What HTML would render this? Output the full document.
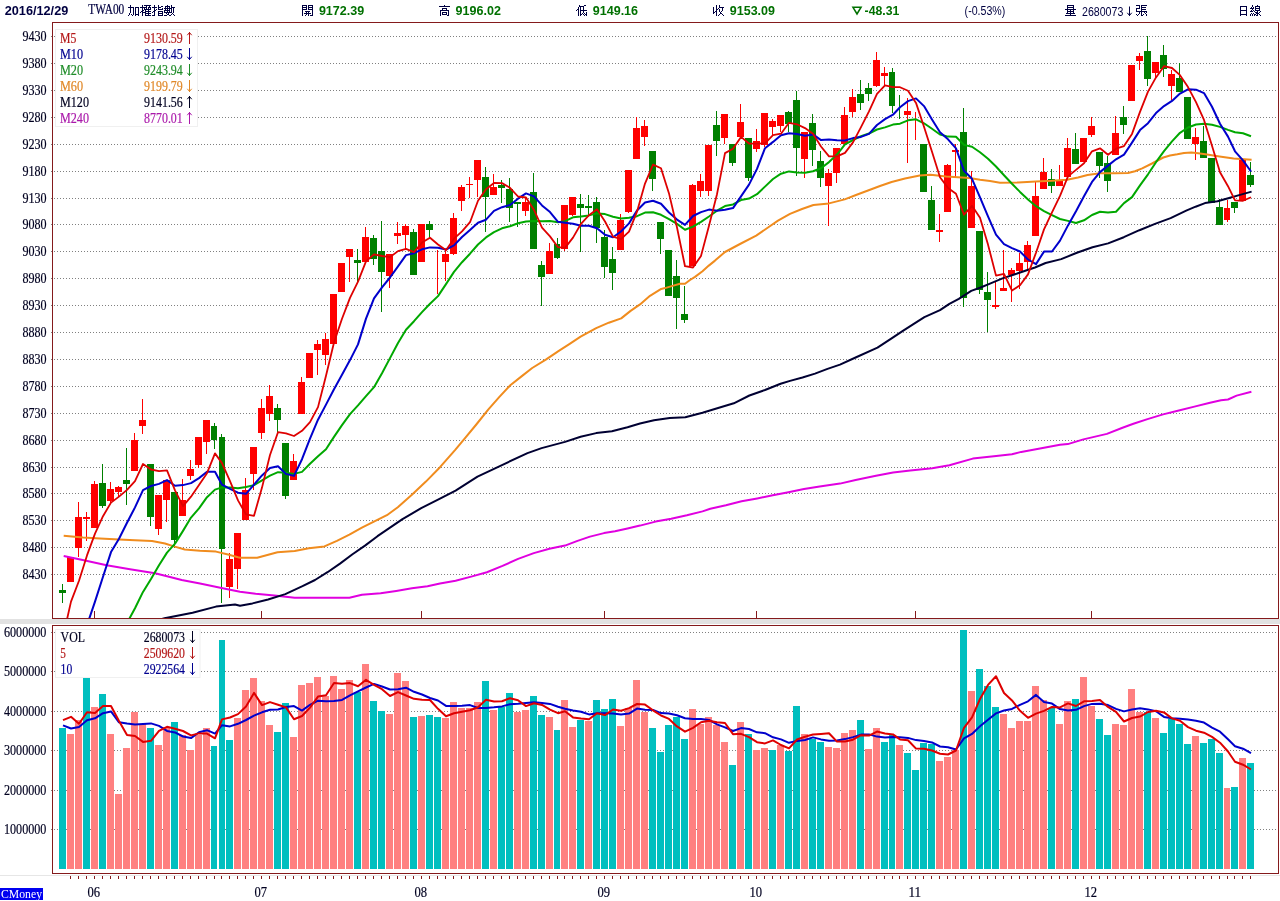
<!DOCTYPE html>
<html><head><meta charset="utf-8"><title>TWA00</title>
<style>html,body{margin:0;padding:0;background:#fff;overflow:hidden}svg{display:block;will-change:transform;transform:translateZ(0)}text{white-space:pre}</style>
</head><body>
<svg width="1280" height="901" viewBox="0 0 1280 901">
<defs><clipPath id="cm"><rect x="53" y="23" width="1225" height="595"/></clipPath><clipPath id="cv"><rect x="53" y="626" width="1225" height="247"/></clipPath></defs>
<rect x="0" y="0" width="1280" height="901" fill="#fff"/>
<rect x="0" y="619" width="1280" height="5" fill="#e2e2e2"/>
<rect x="0" y="875" width="1280" height="1" fill="#e6e6e6"/>
<path d="M51 36.5H1277M51 63.5H1277M51 90.5H1277M51 117.5H1277M51 144.5H1277M51 171.5H1277M51 198.5H1277M51 224.5H1277M51 251.5H1277M51 278.5H1277M51 305.5H1277M51 332.5H1277M51 359.5H1277M51 386.5H1277M51 413.5H1277M51 440.5H1277M51 467.5H1277M51 493.5H1277M51 520.5H1277M51 547.5H1277M51 574.5H1277" stroke="#808080" stroke-width="1" stroke-dasharray="1 2" fill="none" shape-rendering="crispEdges"/>
<path d="M51 829.5H1277M51 790.5H1277M51 750.5H1277M51 711.5H1277M51 671.5H1277M51 632.5H1277" stroke="#808080" stroke-width="1" stroke-dasharray="1 2" fill="none" shape-rendering="crispEdges"/>
<path d="M94.5 611V618M261.5 611V618M421.5 611V618M604.5 611V618M756.5 611V618M915.5 611V618M1091.5 611V618" stroke="#841a1c" stroke-width="1" fill="none" shape-rendering="crispEdges"/>
<path d="M67 557h7v25h-7zM70 557h1v25h-1zM75 517h7v31h-7zM78 502h1v55h-1zM83 517h7v2h-7zM86 512h1v29h-1zM91 484h7v44h-7zM94 481h1v47h-1zM107 489h7v12h-7zM110 482h1v22h-1zM115 487h7v5h-7zM118 486h1v11h-1zM131 440h7v31h-7zM134 433h1v38h-1zM139 420h7v6h-7zM142 399h1v35h-1zM155 495h7v34h-7zM158 495h1v40h-1zM163 480h7v20h-7zM166 480h1v42h-1zM179 500h7v16h-7zM182 479h1v37h-1zM187 469h7v7h-7zM190 460h1v20h-1zM195 437h7v28h-7zM198 437h1v31h-1zM203 420h7v22h-7zM206 420h1v34h-1zM226 559h7v28h-7zM229 553h1v45h-1zM234 533h7v36h-7zM237 533h1v56h-1zM242 490h7v30h-7zM245 478h1v42h-1zM250 447h7v27h-7zM253 447h1v43h-1zM258 408h7v25h-7zM261 399h1v40h-1zM266 396h7v18h-7zM269 385h1v36h-1zM290 461h7v19h-7zM293 454h1v26h-1zM298 382h7v32h-7zM301 377h1v37h-1zM306 353h7v25h-7zM309 353h1v25h-1zM314 344h7v6h-7zM317 340h1v35h-1zM322 339h7v16h-7zM325 333h1v32h-1zM330 294h7v50h-7zM333 294h1v50h-1zM338 263h7v29h-7zM341 263h1v29h-1zM346 249h7v8h-7zM349 249h1v33h-1zM362 237h7v25h-7zM365 227h1v35h-1zM386 254h7v22h-7zM389 254h1v34h-1zM394 233h7v3h-7zM397 222h1v22h-1zM402 226h7v9h-7zM405 224h1v26h-1zM418 224h7v38h-7zM421 224h1v38h-1zM437 250h1v44h-1zM442 254h7v8h-7zM445 250h1v31h-1zM450 218h7v36h-7zM453 213h1v42h-1zM458 187h7v14h-7zM461 185h1v26h-1zM466 184h7v1h-7zM469 177h1v21h-1zM474 160h7v20h-7zM477 160h1v37h-1zM490 187h7v8h-7zM493 174h1v21h-1zM522 202h7v9h-7zM525 198h1v18h-1zM546 251h7v23h-7zM549 243h1v31h-1zM561 205h7v44h-7zM564 205h1v46h-1zM569 197h7v18h-7zM572 197h1v19h-1zM617 220h7v30h-7zM620 214h1v36h-1zM625 170h7v42h-7zM628 170h1v43h-1zM633 128h7v31h-7zM636 117h1v42h-1zM641 126h7v11h-7zM644 120h1v26h-1zM689 185h7v81h-7zM692 184h1v82h-1zM697 181h7v10h-7zM700 174h1v23h-1zM705 145h7v46h-7zM708 145h1v51h-1zM721 114h7v24h-7zM724 114h1v30h-1zM737 122h7v15h-7zM740 104h1v33h-1zM753 141h7v8h-7zM756 129h1v23h-1zM761 113h7v32h-7zM764 113h1v34h-1zM769 121h7v6h-7zM772 119h1v16h-1zM777 115h7v11h-7zM780 115h1v17h-1zM801 132h7v27h-7zM804 132h1v46h-1zM825 173h7v13h-7zM828 169h1v57h-1zM833 148h7v25h-7zM836 148h1v35h-1zM841 115h7v29h-7zM844 107h1v37h-1zM849 97h7v15h-7zM852 89h1v28h-1zM873 60h7v26h-7zM876 52h1v35h-1zM881 73h7v3h-7zM884 67h1v18h-1zM904 111h7v4h-7zM907 98h1v65h-1zM915 112h1v28h-1zM936 230h7v2h-7zM939 214h1v28h-1zM944 165h7v47h-7zM947 164h1v48h-1zM952 150h7v2h-7zM955 144h1v33h-1zM968 186h7v42h-7zM971 171h1v57h-1zM992 305h7v2h-7zM995 282h1v27h-1zM1000 288h7v3h-7zM1003 250h1v41h-1zM1008 270h7v5h-7zM1011 268h1v34h-1zM1016 263h7v8h-7zM1019 253h1v36h-1zM1024 245h7v17h-7zM1027 241h1v30h-1zM1032 196h7v40h-7zM1035 181h1v55h-1zM1040 172h7v17h-7zM1043 158h1v31h-1zM1056 180h7v6h-7zM1059 165h1v21h-1zM1064 148h7v29h-7zM1067 138h1v40h-1zM1080 138h7v24h-7zM1083 138h1v24h-1zM1088 126h7v9h-7zM1091 117h1v20h-1zM1112 133h7v22h-7zM1115 116h1v39h-1zM1128 65h7v36h-7zM1131 65h1v36h-1zM1136 56h7v5h-7zM1139 53h1v17h-1zM1152 62h7v11h-7zM1155 62h1v17h-1zM1168 74h7v12h-7zM1171 70h1v30h-1zM1192 137h7v7h-7zM1195 128h1v32h-1zM1224 208h6v12h-6zM1227 200h1v22h-1zM1239 160h7v41h-7zM1242 160h1v41h-1z" fill="#ff0000" shape-rendering="crispEdges"/>
<path d="M59 590h7v3h-7zM62 584h1v19h-1zM99 483h7v23h-7zM102 464h1v44h-1zM123 480h7v4h-7zM126 448h1v57h-1zM147 464h7v53h-7zM150 464h1v62h-1zM171 492h7v48h-7zM174 492h1v56h-1zM211 426h6v14h-6zM214 423h1v26h-1zM219 437h6v112h-6zM221 434h1v169h-1zM274 408h7v12h-7zM277 404h1v29h-1zM282 443h7v53h-7zM285 443h1v56h-1zM354 260h7v3h-7zM357 249h1v33h-1zM370 238h7v21h-7zM373 235h1v30h-1zM378 251h7v21h-7zM381 221h1v91h-1zM410 232h7v43h-7zM413 229h1v46h-1zM426 224h7v6h-7zM429 221h1v17h-1zM482 177h7v20h-7zM485 167h1v65h-1zM498 185h7v3h-7zM501 180h1v23h-1zM506 189h7v19h-7zM509 178h1v44h-1zM514 202h7v2h-7zM517 202h1v25h-1zM530 192h7v57h-7zM533 173h1v76h-1zM538 265h7v12h-7zM541 261h1v45h-1zM554 244h6v14h-6zM557 238h1v21h-1zM577 204h7v4h-7zM580 194h1v58h-1zM585 206h7v2h-7zM588 195h1v20h-1zM593 202h7v26h-7zM596 197h1v46h-1zM601 237h7v30h-7zM604 230h1v48h-1zM609 259h7v14h-7zM612 247h1v43h-1zM649 151h7v28h-7zM652 151h1v40h-1zM657 222h7v17h-7zM660 222h1v32h-1zM665 250h7v46h-7zM668 250h1v46h-1zM673 276h7v22h-7zM676 260h1v69h-1zM681 314h7v6h-7zM684 286h1v37h-1zM713 125h7v16h-7zM716 111h1v45h-1zM729 144h7v19h-7zM732 144h1v22h-1zM745 138h7v40h-7zM748 138h1v43h-1zM785 112h7v12h-7zM788 111h1v21h-1zM793 100h7v48h-7zM796 91h1v85h-1zM809 123h7v27h-7zM812 114h1v52h-1zM817 161h7v17h-7zM820 151h1v36h-1zM857 94h7v9h-7zM860 80h1v30h-1zM865 88h7v6h-7zM868 83h1v18h-1zM889 72h6v34h-6zM892 68h1v45h-1zM899 95h1v24h-1zM920 144h7v48h-7zM923 144h1v48h-1zM928 200h7v30h-7zM931 186h1v44h-1zM960 132h7v166h-7zM963 108h1v199h-1zM976 231h7v59h-7zM979 231h1v63h-1zM984 292h7v8h-7zM987 272h1v60h-1zM1048 179h7v7h-7zM1051 169h1v24h-1zM1072 149h7v15h-7zM1075 133h1v31h-1zM1096 152h7v14h-7zM1099 152h1v26h-1zM1104 163h7v18h-7zM1107 156h1v36h-1zM1120 117h7v8h-7zM1123 106h1v28h-1zM1144 51h7v28h-7zM1147 36h1v50h-1zM1160 55h7v14h-7zM1163 45h1v32h-1zM1176 78h7v14h-7zM1179 63h1v29h-1zM1184 97h7v42h-7zM1187 97h1v42h-1zM1200 141h7v17h-7zM1203 126h1v32h-1zM1208 158h7v45h-7zM1211 158h1v45h-1zM1216 207h7v18h-7zM1219 199h1v26h-1zM1231 202h7v6h-7zM1234 202h1v11h-1zM1247 175h7v10h-7zM1250 162h1v25h-1z" fill="#008000" shape-rendering="crispEdges"/>
<path d="M63.7 556.1L85.0 560.5L106.7 565.2L130.0 569.3L155.1 573.3L170.0 577.0L181.7 580.0L200.0 583.5L223.9 588.6L240.0 591.7L255.6 593.8L274.4 595.6L294.7 597.7L318.1 597.7L349.4 597.7L361.9 594.8L380.6 593.3L396.2 590.9L411.9 588.3L427.5 586.2L440.0 583.6L455.6 580.8L471.2 576.6L486.9 572.2L502.5 565.9L518.1 558.9L533.8 553.1L549.4 548.8L565.0 545.6L577.5 540.9L590.0 536.6L604.0 533.1L615.0 531.2L627.5 528.4L640.0 525.6L655.6 521.6L671.2 518.8L686.9 515.3L702.5 511.4L710.3 508.8L725.9 505.2L741.6 501.2L757.2 498.4L772.8 495.3L788.4 492.2L804.0 489.1L819.7 486.4L840.0 483.6L855.6 480.0L876.0 475.8L893.1 472.5L910.3 470.6L932.2 468.3L949.4 465.2L972.8 458.6L996.2 456.1L1011.9 454.2L1021.2 451.9L1040.0 448.4L1060.0 444.8L1067.8 444.1L1083.4 439.4L1106.9 433.9L1122.5 427.7L1133.4 423.8L1147.5 419.1L1163.1 414.4L1178.8 410.5L1194.4 406.6L1210.0 402.7L1221.0 400.3L1228.0 399.5L1236.6 395.6L1251.4 391.7" stroke="#e000e0" stroke-width="2.00" fill="none" stroke-linejoin="round" stroke-linecap="butt" clip-path="url(#cm)"/>
<path d="M160.0 619.5L164.5 618.3L192.6 612.8L216.0 606.6L235.0 604.5L240.0 605.8L252.5 603.4L268.1 599.5L285.3 594.1L302.5 586.2L315.0 580.0L327.5 572.2L340.0 563.6L352.5 554.2L365.0 545.6L377.5 536.2L390.0 527.7L402.5 519.1L411.9 513.6L421.2 508.1L430.6 503.4L440.0 498.6L455.6 490.6L477.5 476.6L502.5 464.8L527.5 453.1L541.6 448.1L565.0 441.9L580.6 436.7L596.2 433.1L611.9 431.2L627.5 427.3L640.0 423.5L654.0 420.2L669.7 418.1L685.3 417.3L702.5 412.7L718.1 408.0L733.8 403.3L749.4 395.5L765.0 390.0L780.6 383.8L790.0 380.9L802.5 377.5L815.0 373.6L827.5 368.9L840.0 364.6L855.6 357.5L877.5 347.7L891.6 338.3L902.5 331.2L913.4 324.2L924.4 317.2L940.0 310.2L949.4 303.9L958.8 298.8L971.2 290.9L980.6 287.5L990.0 283.6L1002.5 278.4L1015.0 274.2L1027.5 270.0L1035.0 267.5L1045.6 263.0L1061.2 259.1L1076.9 252.8L1092.5 247.3L1108.1 243.4L1123.8 237.2L1139.4 230.2L1155.0 223.9L1170.6 218.1L1186.2 210.6L1195.6 206.7L1205.0 203.1L1217.5 201.2L1230.0 197.8L1240.0 194.9L1251.6 191.6" stroke="#000032" stroke-width="2.00" fill="none" stroke-linejoin="round" stroke-linecap="butt" clip-path="url(#cm)"/>
<path d="M63.7 535.8L83.0 537.5L100.0 538.5L119.2 539.4L135.0 540.3L152.0 541.0L165.0 543.5L173.9 546.4L184.8 549.5L200.0 550.8L216.0 551.6L228.0 554.5L238.0 557.3L240.0 557.7L257.2 557.7L277.5 552.2L294.7 551.1L308.8 548.3L324.4 546.4L336.9 540.9L349.4 534.7L361.9 527.7L374.4 521.4L386.9 515.2L397.8 507.3L411.9 494.8L425.9 481.6L440.0 467.2L455.0 450.1L464.2 439.1L475.9 425.0L488.4 409.4L499.4 396.9L510.3 385.2L521.2 376.6L532.2 368.0L546.2 359.4L558.8 350.8L569.7 343.8L580.6 336.7L596.2 328.1L608.8 322.7L621.2 318.4L630.6 310.9L640.0 304.4L650.0 295.8L661.2 288.9L665.0 288.1L672.5 285.9L680.0 283.8L685.0 283.7L690.0 280.0L695.0 276.9L702.5 271.2L708.8 265.6L715.0 260.6L720.0 256.2L725.0 252.0L740.0 244.0L756.2 235.6L768.0 227.5L778.0 220.6L790.0 213.9L802.0 209.0L813.4 205.0L829.0 203.4L844.7 199.4L856.0 195.0L868.0 190.5L880.0 186.0L891.6 182.0L905.0 178.5L919.7 175.6L930.6 174.8L946.2 176.4L958.0 177.3L969.7 178.0L980.0 179.8L990.0 181.1L1000.0 182.8L1018.0 182.4L1036.0 181.6L1052.0 180.8L1067.0 179.7L1078.0 177.5L1087.5 175.0L1100.0 173.2L1115.0 173.3L1128.0 173.0L1135.0 171.3L1142.2 168.4L1152.0 163.5L1163.3 157.5L1170.0 155.5L1177.3 154.3L1184.0 153.0L1191.4 152.5L1198.0 153.2L1205.5 154.3L1219.5 156.4L1233.6 158.5L1251.6 159.8" stroke="#f08c1e" stroke-width="2.00" fill="none" stroke-linejoin="round" stroke-linecap="butt" clip-path="url(#cm)"/>
<path d="M63.0 682.0L71.0 683.9L79.0 682.2L87.0 677.9L95.0 669.8L103.0 659.2L111.0 647.3L119.0 634.9L127.0 623.0L135.0 608.3L143.0 591.9L151.0 578.9L159.0 565.2L167.0 552.6L175.0 543.6L183.0 530.9L191.0 517.6L199.0 508.4L207.0 497.2L215.0 489.6L222.0 487.4L230.0 487.5L238.0 488.3L246.0 487.0L254.0 485.1L262.0 480.3L270.0 475.6L278.0 472.2L286.0 472.8L294.0 473.9L302.0 471.9L310.0 463.8L318.0 456.2L326.0 449.2L334.0 436.9L342.0 425.1L350.0 414.1L358.0 405.4L366.0 396.2L374.0 387.2L382.0 373.3L390.0 358.1L398.0 343.0L406.0 329.8L414.0 321.2L422.0 312.1L430.0 303.7L438.0 296.1L446.0 284.1L454.0 271.9L462.0 262.2L470.0 253.7L478.0 244.5L486.0 237.4L494.0 232.1L502.0 228.3L510.0 226.2L518.0 223.2L526.0 221.5L534.0 220.9L542.0 221.2L550.0 221.0L558.0 222.3L565.0 221.2L573.0 217.3L581.0 216.5L589.0 215.4L597.0 213.4L605.0 214.1L613.0 216.8L621.0 218.5L629.0 217.8L637.0 216.2L645.0 212.6L653.0 212.2L661.0 214.8L669.0 219.2L677.0 223.9L685.0 229.8L693.0 226.6L701.0 221.8L709.0 216.5L717.0 210.7L725.0 206.1L733.0 204.4L741.0 200.1L749.0 198.6L757.0 194.2L765.0 186.6L773.0 179.0L781.0 173.7L789.0 171.4L797.0 172.4L805.0 172.7L813.0 171.3L821.0 168.2L829.0 162.1L837.0 154.6L845.0 144.4L853.0 140.0L861.0 136.1L869.0 133.5L877.0 129.5L885.0 127.4L893.0 124.6L900.0 123.7L908.0 120.3L916.0 119.3L924.0 123.3L932.0 128.8L940.0 134.5L948.0 136.6L956.0 136.7L964.0 144.9L972.0 146.8L980.0 152.3L988.0 158.7L996.0 166.5L1004.0 175.2L1012.0 183.8L1020.0 191.9L1028.0 199.4L1036.0 206.2L1044.0 211.2L1052.0 215.2L1060.0 219.0L1068.0 220.9L1076.0 223.0L1084.0 220.3L1092.0 215.0L1100.0 211.8L1108.0 212.6L1116.0 211.7L1124.0 203.1L1132.0 197.1L1140.0 185.4L1148.0 174.3L1156.0 162.2L1164.0 151.2L1172.0 141.4L1180.0 132.8L1188.0 127.5L1196.0 124.5L1204.0 123.8L1212.0 124.7L1220.0 126.9L1228.0 129.9L1235.0 132.2L1243.0 133.3L1251.0 136.2" stroke="#00a800" stroke-width="2.00" fill="none" stroke-linejoin="round" stroke-linecap="butt" clip-path="url(#cm)"/>
<path d="M63.0 693.7L71.0 671.8L79.0 646.5L87.0 625.2L95.0 601.6L103.0 576.7L111.0 552.1L119.0 538.7L127.0 522.7L135.0 507.4L143.0 490.1L151.0 486.0L159.0 483.9L167.0 480.1L175.0 485.7L183.0 485.1L191.0 483.1L199.0 478.1L207.0 471.8L215.0 471.8L222.0 484.7L230.0 488.9L238.0 492.7L246.0 493.8L254.0 484.6L262.0 475.4L270.0 468.1L278.0 466.3L286.0 473.9L294.0 475.9L302.0 459.2L310.0 438.6L318.0 419.7L326.0 404.6L334.0 389.2L342.0 374.8L350.0 360.1L358.0 344.4L366.0 318.6L374.0 298.4L382.0 287.4L390.0 277.5L398.0 266.4L406.0 255.1L414.0 253.2L422.0 249.3L430.0 247.4L438.0 247.8L446.0 249.5L454.0 245.4L462.0 237.0L470.0 229.9L478.0 222.7L486.0 219.7L494.0 210.9L502.0 207.2L510.0 205.0L518.0 198.7L526.0 193.4L534.0 196.4L542.0 205.4L550.0 212.1L558.0 221.8L565.0 222.7L573.0 223.7L581.0 225.8L589.0 225.8L597.0 228.2L605.0 234.7L613.0 237.2L621.0 231.5L629.0 223.4L637.0 210.5L645.0 202.5L653.0 200.7L661.0 203.8L669.0 212.5L677.0 219.6L685.0 224.9L693.0 216.0L701.0 212.1L709.0 209.6L717.0 210.8L725.0 209.7L733.0 208.1L741.0 196.4L749.0 184.6L757.0 168.9L765.0 148.2L773.0 141.9L781.0 135.3L789.0 133.2L797.0 134.0L805.0 135.8L813.0 134.4L821.0 140.1L829.0 139.6L837.0 140.3L845.0 140.5L853.0 138.1L861.0 136.9L869.0 133.9L877.0 125.0L885.0 119.1L893.0 114.7L900.0 107.2L908.0 101.1L916.0 98.4L924.0 106.1L932.0 119.4L940.0 132.2L948.0 139.3L956.0 148.3L964.0 170.8L972.0 178.8L980.0 197.4L988.0 216.3L996.0 234.7L1004.0 244.2L1012.0 248.2L1020.0 251.5L1028.0 259.5L1036.0 264.1L1044.0 251.6L1052.0 251.5L1060.0 240.6L1068.0 225.4L1076.0 211.3L1084.0 196.3L1092.0 181.9L1100.0 172.1L1108.0 165.6L1116.0 159.3L1124.0 154.6L1132.0 142.6L1140.0 130.1L1148.0 123.2L1156.0 113.1L1164.0 106.1L1172.0 100.9L1180.0 93.6L1188.0 89.3L1196.0 89.7L1204.0 93.1L1212.0 106.8L1220.0 123.7L1228.0 136.6L1235.0 151.3L1243.0 160.4L1251.0 171.5" stroke="#0000cc" stroke-width="2.00" fill="none" stroke-linejoin="round" stroke-linecap="butt" clip-path="url(#cm)"/>
<path d="M63.0 637.2L71.0 601.6L79.0 580.8L87.0 555.4L95.0 533.6L103.0 516.2L111.0 502.6L119.0 496.6L127.0 489.9L135.0 481.1L143.0 464.0L151.0 469.5L159.0 471.1L167.0 470.3L175.0 490.3L183.0 506.2L191.0 496.7L199.0 485.1L207.0 473.2L215.0 453.4L222.0 463.1L230.0 481.1L238.0 500.4L246.0 514.4L254.0 515.8L262.0 487.6L270.0 455.0L278.0 432.2L286.0 433.3L294.0 436.0L302.0 430.8L310.0 422.2L318.0 407.1L326.0 375.8L334.0 342.5L342.0 318.7L350.0 297.9L358.0 281.7L366.0 261.3L374.0 254.4L382.0 256.0L390.0 257.1L398.0 251.1L406.0 248.9L414.0 252.1L422.0 242.6L430.0 237.7L438.0 244.5L446.0 250.2L454.0 238.7L462.0 231.3L470.0 222.2L478.0 200.8L486.0 189.3L494.0 183.0L502.0 183.1L510.0 187.8L518.0 196.5L526.0 197.5L534.0 209.9L542.0 227.7L550.0 236.4L558.0 247.2L565.0 247.9L573.0 237.6L581.0 223.8L589.0 215.2L597.0 209.2L605.0 221.5L613.0 236.7L621.0 239.2L629.0 231.7L637.0 211.7L645.0 183.6L653.0 164.6L661.0 168.3L669.0 193.4L677.0 227.5L685.0 266.2L693.0 267.5L701.0 255.9L709.0 225.7L717.0 194.2L725.0 153.1L733.0 148.7L741.0 136.9L749.0 143.5L757.0 143.6L765.0 143.4L773.0 135.1L781.0 133.7L789.0 122.8L797.0 124.3L805.0 128.1L813.0 133.8L821.0 146.5L829.0 156.4L837.0 156.3L845.0 152.9L853.0 142.4L861.0 127.2L869.0 111.4L877.0 93.8L885.0 85.4L893.0 87.1L900.0 87.2L908.0 90.7L916.0 102.9L924.0 126.8L932.0 151.8L940.0 177.2L948.0 187.9L956.0 193.7L964.0 214.7L972.0 205.8L980.0 217.7L988.0 244.6L996.0 275.6L1004.0 273.8L1012.0 290.6L1020.0 285.3L1028.0 274.4L1036.0 252.7L1044.0 229.4L1052.0 212.4L1060.0 195.9L1068.0 176.4L1076.0 169.9L1084.0 163.2L1092.0 151.3L1100.0 148.3L1108.0 154.8L1116.0 148.7L1124.0 146.1L1132.0 133.9L1140.0 111.9L1148.0 91.6L1156.0 77.4L1164.0 66.2L1172.0 68.0L1180.0 75.2L1188.0 87.1L1196.0 102.1L1204.0 119.9L1212.0 145.7L1220.0 172.2L1228.0 186.2L1235.0 200.4L1243.0 200.8L1251.0 197.2" stroke="#de0000" stroke-width="1.80" fill="none" stroke-linejoin="round" stroke-linecap="butt" clip-path="url(#cm)"/>
<path d="M67 734h7V869h-7zM75 720h7V869h-7zM91 707h7V869h-7zM107 734h7V869h-7zM115 794h7V869h-7zM123 748h7V869h-7zM131 712h7V869h-7zM139 724h7V869h-7zM155 745h7V869h-7zM163 727h7V869h-7zM179 735h7V869h-7zM187 750h7V869h-7zM195 735h7V869h-7zM203 728h7V869h-7zM234 718h7V869h-7zM242 690h7V869h-7zM250 678h7V869h-7zM258 701h7V869h-7zM266 725h7V869h-7zM290 737h7V869h-7zM298 685h7V869h-7zM306 683h7V869h-7zM314 677h7V869h-7zM322 696h7V869h-7zM330 676h7V869h-7zM338 689h7V869h-7zM346 680h7V869h-7zM362 664h7V869h-7zM386 714h7V869h-7zM394 673h7V869h-7zM402 681h7V869h-7zM418 716h7V869h-7zM442 718h7V869h-7zM450 702h7V869h-7zM458 708h7V869h-7zM466 708h7V869h-7zM474 702h7V869h-7zM490 710h7V869h-7zM514 712h7V869h-7zM522 710h7V869h-7zM546 717h7V869h-7zM561 700h7V869h-7zM569 727h7V869h-7zM585 721h7V869h-7zM617 726h7V869h-7zM625 708h7V869h-7zM633 680h7V869h-7zM641 712h7V869h-7zM689 709h7V869h-7zM697 724h7V869h-7zM705 717h7V869h-7zM713 725h7V869h-7zM721 742h7V869h-7zM737 722h7V869h-7zM753 750h7V869h-7zM761 748h7V869h-7zM777 745h7V869h-7zM801 734h7V869h-7zM825 747h7V869h-7zM833 748h7V869h-7zM841 733h7V869h-7zM849 730h7V869h-7zM865 749h7V869h-7zM873 728h7V869h-7zM896 745h7V869h-7zM936 761h7V869h-7zM944 757h7V869h-7zM952 750h7V869h-7zM968 691h7V869h-7zM1000 714h7V869h-7zM1008 728h7V869h-7zM1016 721h7V869h-7zM1024 721h7V869h-7zM1032 686h7V869h-7zM1040 700h7V869h-7zM1056 724h7V869h-7zM1064 701h7V869h-7zM1080 677h7V869h-7zM1088 706h7V869h-7zM1112 724h7V869h-7zM1120 725h7V869h-7zM1128 689h7V869h-7zM1136 712h7V869h-7zM1152 718h7V869h-7zM1192 736h7V869h-7zM1224 788h6V869h-6zM1239 758h7V869h-7z" fill="#ff8080" shape-rendering="crispEdges"/>
<path d="M59 728h7V869h-7zM83 678h7V869h-7zM99 694h7V869h-7zM147 728h7V869h-7zM171 722h7V869h-7zM211 746h6V869h-6zM219 640h6V869h-6zM226 740h7V869h-7zM274 732h7V869h-7zM282 703h7V869h-7zM354 692h7V869h-7zM370 701h7V869h-7zM378 711h7V869h-7zM410 717h7V869h-7zM426 715h7V869h-7zM434 717h7V869h-7zM482 681h7V869h-7zM498 707h7V869h-7zM506 693h7V869h-7zM530 696h7V869h-7zM538 715h7V869h-7zM554 730h6V869h-6zM577 720h7V869h-7zM593 700h7V869h-7zM601 709h7V869h-7zM609 699h7V869h-7zM649 728h7V869h-7zM657 752h7V869h-7zM665 725h7V869h-7zM673 717h7V869h-7zM681 739h7V869h-7zM729 765h7V869h-7zM745 734h7V869h-7zM769 750h7V869h-7zM785 751h7V869h-7zM793 706h7V869h-7zM809 739h7V869h-7zM817 742h7V869h-7zM857 720h7V869h-7zM881 742h7V869h-7zM889 735h6V869h-6zM904 753h7V869h-7zM912 770h7V869h-7zM920 743h7V869h-7zM928 744h7V869h-7zM960 630h7V869h-7zM976 669h7V869h-7zM984 686h7V869h-7zM992 707h7V869h-7zM1048 708h7V869h-7zM1072 699h7V869h-7zM1096 719h7V869h-7zM1104 735h7V869h-7zM1144 712h7V869h-7zM1160 733h7V869h-7zM1168 719h7V869h-7zM1176 724h7V869h-7zM1184 744h7V869h-7zM1200 743h7V869h-7zM1208 739h7V869h-7zM1216 753h7V869h-7zM1231 787h7V869h-7zM1247 763h7V869h-7z" fill="#00bfbf" shape-rendering="crispEdges"/>
<path d="M63.0 725.4L71.0 728.5L79.0 726.9L87.0 720.2L95.0 718.3L103.0 713.2L111.0 711.4L119.0 722.3L127.0 723.6L135.0 724.5L143.0 724.0L151.0 723.4L159.0 725.9L167.0 730.9L175.0 732.4L183.0 736.5L191.0 738.1L199.0 732.2L207.0 730.2L215.0 733.6L222.0 725.2L230.0 726.4L238.0 723.8L246.0 720.0L254.0 715.6L262.0 712.3L270.0 709.8L278.0 709.5L286.0 707.0L294.0 706.1L302.0 710.6L310.0 704.8L318.0 700.7L326.0 701.3L334.0 701.1L342.0 699.9L350.0 695.4L358.0 691.4L366.0 687.5L374.0 683.9L382.0 686.5L390.0 689.5L398.0 689.2L406.0 687.7L414.0 691.8L422.0 694.5L430.0 698.0L438.0 700.5L446.0 705.9L454.0 706.0L462.0 705.7L470.0 705.1L478.0 708.0L486.0 708.0L494.0 707.3L502.0 706.4L510.0 704.2L518.0 703.7L526.0 702.9L534.0 702.3L542.0 703.0L550.0 703.9L558.0 706.7L565.0 708.7L573.0 710.4L581.0 711.7L589.0 714.4L597.0 713.2L605.0 713.2L613.0 713.5L621.0 714.6L629.0 713.6L637.0 708.6L645.0 709.8L653.0 709.9L661.0 713.1L669.0 713.5L677.0 715.2L685.0 718.2L693.0 719.1L701.0 718.9L709.0 719.9L717.0 724.4L725.0 727.4L733.0 731.0L741.0 728.1L749.0 729.0L757.0 732.3L765.0 733.2L773.0 737.3L781.0 739.4L789.0 742.8L797.0 740.9L805.0 740.0L813.0 737.4L821.0 739.4L829.0 740.8L837.0 740.6L845.0 739.1L853.0 737.1L861.0 734.6L869.0 734.4L877.0 736.6L885.0 737.4L893.0 737.0L900.0 737.3L908.0 737.9L916.0 740.1L924.0 741.1L932.0 742.4L940.0 746.5L948.0 747.3L956.0 749.5L964.0 738.3L972.0 733.9L980.0 726.3L988.0 719.7L996.0 713.4L1004.0 710.5L1012.0 708.9L1020.0 704.9L1028.0 701.3L1036.0 694.9L1044.0 702.0L1052.0 703.6L1060.0 709.1L1068.0 710.6L1076.0 709.8L1084.0 706.1L1092.0 703.9L1100.0 703.7L1108.0 705.1L1116.0 708.9L1124.0 711.4L1132.0 709.5L1140.0 708.3L1148.0 709.4L1156.0 711.3L1164.0 716.9L1172.0 718.2L1180.0 718.7L1188.0 719.6L1196.0 720.8L1204.0 722.6L1212.0 727.6L1220.0 731.7L1228.0 739.3L1235.0 746.2L1243.0 748.7L1251.0 753.2" stroke="#0000cc" stroke-width="2.00" fill="none" stroke-linejoin="round" stroke-linecap="butt" clip-path="url(#cv)"/>
<path d="M63.0 720.2L71.0 716.8L79.0 723.7L87.0 712.3L95.0 712.9L103.0 706.1L111.0 706.1L119.0 720.9L127.0 734.9L135.0 736.0L143.0 741.9L151.0 740.8L159.0 730.9L167.0 726.8L175.0 728.8L183.0 731.0L191.0 735.4L199.0 733.4L207.0 733.6L215.0 738.3L222.0 719.4L230.0 717.5L238.0 714.1L246.0 706.5L254.0 692.9L262.0 705.1L270.0 702.1L278.0 704.8L286.0 707.4L294.0 719.2L302.0 716.0L310.0 707.6L318.0 696.6L326.0 695.2L334.0 683.0L342.0 683.7L350.0 683.1L358.0 686.2L366.0 679.8L374.0 684.8L382.0 689.2L390.0 696.0L398.0 692.1L406.0 695.5L414.0 698.8L422.0 699.8L430.0 700.0L438.0 708.8L446.0 716.3L454.0 713.3L462.0 711.7L470.0 710.2L478.0 707.2L486.0 699.7L494.0 701.4L502.0 701.2L510.0 698.2L518.0 700.2L526.0 706.1L534.0 703.3L542.0 704.9L550.0 709.7L558.0 713.2L565.0 711.3L573.0 717.4L581.0 718.4L589.0 719.2L597.0 713.2L605.0 715.1L613.0 709.5L621.0 710.7L629.0 708.1L637.0 704.0L645.0 704.6L653.0 710.3L661.0 715.5L669.0 718.9L677.0 726.4L685.0 731.7L693.0 727.9L701.0 722.3L709.0 720.8L717.0 722.3L725.0 723.0L733.0 734.2L741.0 733.8L749.0 737.2L757.0 742.2L765.0 743.4L773.0 740.4L781.0 745.0L789.0 748.3L797.0 739.5L805.0 736.7L813.0 734.5L821.0 733.9L829.0 733.2L837.0 741.6L845.0 741.4L853.0 739.7L861.0 735.2L869.0 735.6L877.0 731.6L885.0 733.4L893.0 734.4L900.0 739.4L908.0 740.2L916.0 748.6L924.0 748.7L932.0 750.5L940.0 753.7L948.0 754.5L956.0 750.5L964.0 727.9L972.0 717.4L980.0 699.0L988.0 684.9L996.0 676.2L1004.0 693.0L1012.0 700.4L1020.0 710.8L1028.0 717.8L1036.0 713.6L1044.0 710.9L1052.0 706.9L1060.0 707.4L1068.0 703.4L1076.0 706.0L1084.0 701.3L1092.0 701.0L1100.0 700.0L1108.0 706.9L1116.0 711.8L1124.0 721.5L1132.0 718.0L1140.0 716.6L1148.0 712.0L1156.0 710.8L1164.0 712.4L1172.0 718.4L1180.0 720.7L1188.0 727.1L1196.0 730.7L1204.0 732.7L1212.0 736.9L1220.0 742.7L1228.0 751.5L1235.0 761.7L1243.0 764.7L1251.0 769.5" stroke="#de0000" stroke-width="2.00" fill="none" stroke-linejoin="round" stroke-linecap="butt" clip-path="url(#cv)"/>
<path d="M52.5 22.5H1278.5V618.5H52.5zM52.5 625.5H1278.5V873.5H52.5z" stroke="#841a1c" stroke-width="1" fill="none" shape-rendering="crispEdges"/>
<path d="M70.5 876V879M78.5 876V879M86.5 876V879M94.5 876V879M102.5 876V879M110.5 876V879M118.5 876V879M126.5 876V879M134.5 876V879M142.5 876V879M150.5 876V879M158.5 876V879M166.5 876V879M174.5 876V879M182.5 876V879M190.5 876V879M198.5 876V879M206.5 876V879M214.5 876V879M221.5 876V879M229.5 876V879M237.5 876V879M245.5 876V879M253.5 876V879M261.5 876V879M269.5 876V879M277.5 876V879M285.5 876V879M293.5 876V879M301.5 876V879M309.5 876V879M317.5 876V879M325.5 876V879M333.5 876V879M341.5 876V879M349.5 876V879M357.5 876V879M365.5 876V879M373.5 876V879M381.5 876V879M389.5 876V879M397.5 876V879M405.5 876V879M413.5 876V879M421.5 876V879M429.5 876V879M437.5 876V879M445.5 876V879M453.5 876V879M461.5 876V879M469.5 876V879M477.5 876V879M485.5 876V879M493.5 876V879M501.5 876V879M509.5 876V879M517.5 876V879M525.5 876V879M533.5 876V879M541.5 876V879M549.5 876V879M557.5 876V879M564.5 876V879M572.5 876V879M580.5 876V879M588.5 876V879M596.5 876V879M604.5 876V879M612.5 876V879M620.5 876V879M628.5 876V879M636.5 876V879M644.5 876V879M652.5 876V879M660.5 876V879M668.5 876V879M676.5 876V879M684.5 876V879M692.5 876V879M700.5 876V879M708.5 876V879M716.5 876V879M724.5 876V879M732.5 876V879M740.5 876V879M748.5 876V879M756.5 876V879M764.5 876V879M772.5 876V879M780.5 876V879M788.5 876V879M796.5 876V879M804.5 876V879M812.5 876V879M820.5 876V879M828.5 876V879M836.5 876V879M844.5 876V879M852.5 876V879M860.5 876V879M868.5 876V879M876.5 876V879M884.5 876V879M892.5 876V879M899.5 876V879M907.5 876V879M915.5 876V879M923.5 876V879M931.5 876V879M939.5 876V879M947.5 876V879M955.5 876V879M963.5 876V879M971.5 876V879M979.5 876V879M987.5 876V879M995.5 876V879M1003.5 876V879M1011.5 876V879M1019.5 876V879M1027.5 876V879M1035.5 876V879M1043.5 876V879M1051.5 876V879M1059.5 876V879M1067.5 876V879M1075.5 876V879M1083.5 876V879M1091.5 876V879M1099.5 876V879M1107.5 876V879M1115.5 876V879M1123.5 876V879M1131.5 876V879M1139.5 876V879M1147.5 876V879M1155.5 876V879M1163.5 876V879M1171.5 876V879M1179.5 876V879M1187.5 876V879M1195.5 876V879M1203.5 876V879M1211.5 876V879M1219.5 876V879M1227.5 876V879M1234.5 876V879M1242.5 876V879M1250.5 876V879" stroke="#841a1c" stroke-width="1" fill="none" shape-rendering="crispEdges"/>
<rect x="55.5" y="29.5" width="142" height="97" fill="#fff" stroke="#f0f0f0" stroke-width="1"/>
<text x="60.00" y="42.80" font-family="'Liberation Serif',serif" font-size="15.00" fill="#b41818" stroke="#b41818" stroke-width="0.2" textLength="16.30" lengthAdjust="spacingAndGlyphs">M5</text>
<text x="144.00" y="42.80" font-family="'Liberation Serif',serif" font-size="15.00" fill="#b41818" stroke="#b41818" stroke-width="0.2" textLength="38.80" lengthAdjust="spacingAndGlyphs">9130.59</text>
<path d="M189.5 32.0V44.0M187.3 35.2L189.5 32.5L191.7 35.2" stroke="#b41818" stroke-width="1" fill="none"/>
<text x="60.00" y="58.80" font-family="'Liberation Serif',serif" font-size="15.00" fill="#000090" stroke="#000090" stroke-width="0.2" textLength="23.10" lengthAdjust="spacingAndGlyphs">M10</text>
<text x="144.00" y="58.80" font-family="'Liberation Serif',serif" font-size="15.00" fill="#000090" stroke="#000090" stroke-width="0.2" textLength="38.80" lengthAdjust="spacingAndGlyphs">9178.45</text>
<path d="M189.5 48.0V60.0M187.3 56.8L189.5 59.5L191.7 56.8" stroke="#000090" stroke-width="1" fill="none"/>
<text x="60.00" y="74.80" font-family="'Liberation Serif',serif" font-size="15.00" fill="#1e8c28" stroke="#1e8c28" stroke-width="0.2" textLength="23.10" lengthAdjust="spacingAndGlyphs">M20</text>
<text x="144.00" y="74.80" font-family="'Liberation Serif',serif" font-size="15.00" fill="#1e8c28" stroke="#1e8c28" stroke-width="0.2" textLength="38.80" lengthAdjust="spacingAndGlyphs">9243.94</text>
<path d="M189.5 64.0V76.0M187.3 72.8L189.5 75.5L191.7 72.8" stroke="#1e8c28" stroke-width="1" fill="none"/>
<text x="60.00" y="90.80" font-family="'Liberation Serif',serif" font-size="15.00" fill="#e08828" stroke="#e08828" stroke-width="0.2" textLength="23.10" lengthAdjust="spacingAndGlyphs">M60</text>
<text x="144.00" y="90.80" font-family="'Liberation Serif',serif" font-size="15.00" fill="#e08828" stroke="#e08828" stroke-width="0.2" textLength="38.80" lengthAdjust="spacingAndGlyphs">9199.79</text>
<path d="M189.5 80.0V92.0M187.3 88.8L189.5 91.5L191.7 88.8" stroke="#e08828" stroke-width="1" fill="none"/>
<text x="60.00" y="106.80" font-family="'Liberation Serif',serif" font-size="15.00" fill="#000020" stroke="#000020" stroke-width="0.2" textLength="29.00" lengthAdjust="spacingAndGlyphs">M120</text>
<text x="144.00" y="106.80" font-family="'Liberation Serif',serif" font-size="15.00" fill="#000020" stroke="#000020" stroke-width="0.2" textLength="38.80" lengthAdjust="spacingAndGlyphs">9141.56</text>
<path d="M189.5 96.0V108.0M187.3 99.2L189.5 96.5L191.7 99.2" stroke="#000020" stroke-width="1" fill="none"/>
<text x="60.00" y="122.80" font-family="'Liberation Serif',serif" font-size="15.00" fill="#aa18aa" stroke="#aa18aa" stroke-width="0.2" textLength="29.00" lengthAdjust="spacingAndGlyphs">M240</text>
<text x="144.00" y="122.80" font-family="'Liberation Serif',serif" font-size="15.00" fill="#aa18aa" stroke="#aa18aa" stroke-width="0.2" textLength="38.80" lengthAdjust="spacingAndGlyphs">8770.01</text>
<path d="M189.5 112.0V124.0M187.3 115.2L189.5 112.5L191.7 115.2" stroke="#aa18aa" stroke-width="1" fill="none"/>
<rect x="55.5" y="629.5" width="144.5" height="48" fill="#fff" stroke="#f0f0f0" stroke-width="1"/>
<text x="60.60" y="641.80" font-family="'Liberation Serif',serif" font-size="15.00" fill="#000020" stroke="#000020" stroke-width="0.2" textLength="24.40" lengthAdjust="spacingAndGlyphs">VOL</text>
<text x="143.80" y="641.80" font-family="'Liberation Serif',serif" font-size="15.00" fill="#000020" stroke="#000020" stroke-width="0.2" textLength="41.20" lengthAdjust="spacingAndGlyphs">2680073</text>
<path d="M192.5 631.0V643.0M190.3 639.8L192.5 642.5L194.7 639.8" stroke="#000020" stroke-width="1" fill="none"/>
<text x="60.20" y="657.80" font-family="'Liberation Serif',serif" font-size="15.00" fill="#b41818" stroke="#b41818" stroke-width="0.2" textLength="5.60" lengthAdjust="spacingAndGlyphs">5</text>
<text x="143.80" y="657.80" font-family="'Liberation Serif',serif" font-size="15.00" fill="#b41818" stroke="#b41818" stroke-width="0.2" textLength="41.20" lengthAdjust="spacingAndGlyphs">2509620</text>
<path d="M192.5 647.0V659.0M190.3 655.8L192.5 658.5L194.7 655.8" stroke="#b41818" stroke-width="1" fill="none"/>
<text x="60.60" y="673.80" font-family="'Liberation Serif',serif" font-size="15.00" fill="#000090" stroke="#000090" stroke-width="0.2" textLength="11.60" lengthAdjust="spacingAndGlyphs">10</text>
<text x="143.80" y="673.80" font-family="'Liberation Serif',serif" font-size="15.00" fill="#000090" stroke="#000090" stroke-width="0.2" textLength="41.20" lengthAdjust="spacingAndGlyphs">2922564</text>
<path d="M192.5 663.0V675.0M190.3 671.8L192.5 674.5L194.7 671.8" stroke="#000090" stroke-width="1" fill="none"/>
<text x="22.40" y="41.00" font-family="'Liberation Serif',serif" font-size="15.00" fill="#000020" stroke="#000020" stroke-width="0.2" textLength="24.20" lengthAdjust="spacingAndGlyphs">9430</text>
<text x="22.40" y="68.00" font-family="'Liberation Serif',serif" font-size="15.00" fill="#000020" stroke="#000020" stroke-width="0.2" textLength="24.20" lengthAdjust="spacingAndGlyphs">9380</text>
<text x="22.40" y="95.00" font-family="'Liberation Serif',serif" font-size="15.00" fill="#000020" stroke="#000020" stroke-width="0.2" textLength="24.20" lengthAdjust="spacingAndGlyphs">9330</text>
<text x="22.40" y="122.00" font-family="'Liberation Serif',serif" font-size="15.00" fill="#000020" stroke="#000020" stroke-width="0.2" textLength="24.20" lengthAdjust="spacingAndGlyphs">9280</text>
<text x="22.40" y="149.00" font-family="'Liberation Serif',serif" font-size="15.00" fill="#000020" stroke="#000020" stroke-width="0.2" textLength="24.20" lengthAdjust="spacingAndGlyphs">9230</text>
<text x="22.40" y="176.00" font-family="'Liberation Serif',serif" font-size="15.00" fill="#000020" stroke="#000020" stroke-width="0.2" textLength="24.20" lengthAdjust="spacingAndGlyphs">9180</text>
<text x="22.40" y="203.00" font-family="'Liberation Serif',serif" font-size="15.00" fill="#000020" stroke="#000020" stroke-width="0.2" textLength="24.20" lengthAdjust="spacingAndGlyphs">9130</text>
<text x="22.40" y="229.00" font-family="'Liberation Serif',serif" font-size="15.00" fill="#000020" stroke="#000020" stroke-width="0.2" textLength="24.20" lengthAdjust="spacingAndGlyphs">9080</text>
<text x="22.40" y="256.00" font-family="'Liberation Serif',serif" font-size="15.00" fill="#000020" stroke="#000020" stroke-width="0.2" textLength="24.20" lengthAdjust="spacingAndGlyphs">9030</text>
<text x="22.40" y="283.00" font-family="'Liberation Serif',serif" font-size="15.00" fill="#000020" stroke="#000020" stroke-width="0.2" textLength="24.20" lengthAdjust="spacingAndGlyphs">8980</text>
<text x="22.40" y="310.00" font-family="'Liberation Serif',serif" font-size="15.00" fill="#000020" stroke="#000020" stroke-width="0.2" textLength="24.20" lengthAdjust="spacingAndGlyphs">8930</text>
<text x="22.40" y="337.00" font-family="'Liberation Serif',serif" font-size="15.00" fill="#000020" stroke="#000020" stroke-width="0.2" textLength="24.20" lengthAdjust="spacingAndGlyphs">8880</text>
<text x="22.40" y="364.00" font-family="'Liberation Serif',serif" font-size="15.00" fill="#000020" stroke="#000020" stroke-width="0.2" textLength="24.20" lengthAdjust="spacingAndGlyphs">8830</text>
<text x="22.40" y="391.00" font-family="'Liberation Serif',serif" font-size="15.00" fill="#000020" stroke="#000020" stroke-width="0.2" textLength="24.20" lengthAdjust="spacingAndGlyphs">8780</text>
<text x="22.40" y="418.00" font-family="'Liberation Serif',serif" font-size="15.00" fill="#000020" stroke="#000020" stroke-width="0.2" textLength="24.20" lengthAdjust="spacingAndGlyphs">8730</text>
<text x="22.40" y="445.00" font-family="'Liberation Serif',serif" font-size="15.00" fill="#000020" stroke="#000020" stroke-width="0.2" textLength="24.20" lengthAdjust="spacingAndGlyphs">8680</text>
<text x="22.40" y="472.00" font-family="'Liberation Serif',serif" font-size="15.00" fill="#000020" stroke="#000020" stroke-width="0.2" textLength="24.20" lengthAdjust="spacingAndGlyphs">8630</text>
<text x="22.40" y="498.00" font-family="'Liberation Serif',serif" font-size="15.00" fill="#000020" stroke="#000020" stroke-width="0.2" textLength="24.20" lengthAdjust="spacingAndGlyphs">8580</text>
<text x="22.40" y="525.00" font-family="'Liberation Serif',serif" font-size="15.00" fill="#000020" stroke="#000020" stroke-width="0.2" textLength="24.20" lengthAdjust="spacingAndGlyphs">8530</text>
<text x="22.40" y="552.00" font-family="'Liberation Serif',serif" font-size="15.00" fill="#000020" stroke="#000020" stroke-width="0.2" textLength="24.20" lengthAdjust="spacingAndGlyphs">8480</text>
<text x="22.40" y="579.00" font-family="'Liberation Serif',serif" font-size="15.00" fill="#000020" stroke="#000020" stroke-width="0.2" textLength="24.20" lengthAdjust="spacingAndGlyphs">8430</text>
<text x="4.00" y="834.00" font-family="'Liberation Serif',serif" font-size="15.00" fill="#000020" stroke="#000020" stroke-width="0.2" textLength="42.40" lengthAdjust="spacingAndGlyphs">1000000</text>
<text x="4.00" y="795.00" font-family="'Liberation Serif',serif" font-size="15.00" fill="#000020" stroke="#000020" stroke-width="0.2" textLength="42.40" lengthAdjust="spacingAndGlyphs">2000000</text>
<text x="4.00" y="755.00" font-family="'Liberation Serif',serif" font-size="15.00" fill="#000020" stroke="#000020" stroke-width="0.2" textLength="42.40" lengthAdjust="spacingAndGlyphs">3000000</text>
<text x="4.00" y="716.00" font-family="'Liberation Serif',serif" font-size="15.00" fill="#000020" stroke="#000020" stroke-width="0.2" textLength="42.40" lengthAdjust="spacingAndGlyphs">4000000</text>
<text x="4.00" y="676.00" font-family="'Liberation Serif',serif" font-size="15.00" fill="#000020" stroke="#000020" stroke-width="0.2" textLength="42.40" lengthAdjust="spacingAndGlyphs">5000000</text>
<text x="4.00" y="637.00" font-family="'Liberation Serif',serif" font-size="15.00" fill="#000020" stroke="#000020" stroke-width="0.2" textLength="42.40" lengthAdjust="spacingAndGlyphs">6000000</text>
<text x="87.50" y="896.60" font-family="'Liberation Serif',serif" font-size="15.00" fill="#000020" stroke="#000020" stroke-width="0.2" textLength="12.60" lengthAdjust="spacingAndGlyphs">06</text>
<text x="254.50" y="896.60" font-family="'Liberation Serif',serif" font-size="15.00" fill="#000020" stroke="#000020" stroke-width="0.2" textLength="12.60" lengthAdjust="spacingAndGlyphs">07</text>
<text x="414.50" y="896.60" font-family="'Liberation Serif',serif" font-size="15.00" fill="#000020" stroke="#000020" stroke-width="0.2" textLength="12.60" lengthAdjust="spacingAndGlyphs">08</text>
<text x="597.50" y="896.60" font-family="'Liberation Serif',serif" font-size="15.00" fill="#000020" stroke="#000020" stroke-width="0.2" textLength="12.60" lengthAdjust="spacingAndGlyphs">09</text>
<text x="749.50" y="896.60" font-family="'Liberation Serif',serif" font-size="15.00" fill="#000020" stroke="#000020" stroke-width="0.2" textLength="12.60" lengthAdjust="spacingAndGlyphs">10</text>
<text x="908.50" y="896.60" font-family="'Liberation Serif',serif" font-size="15.00" fill="#000020" stroke="#000020" stroke-width="0.2" textLength="12.60" lengthAdjust="spacingAndGlyphs">11</text>
<text x="1084.50" y="896.60" font-family="'Liberation Serif',serif" font-size="15.00" fill="#000020" stroke="#000020" stroke-width="0.2" textLength="12.60" lengthAdjust="spacingAndGlyphs">12</text>
<rect x="0" y="888" width="43" height="12" fill="#0000f0"/>
<text x="1.00" y="897.60" font-family="'Liberation Serif',serif" font-size="13.50" fill="#ffffff" textLength="41.00" lengthAdjust="spacingAndGlyphs">CMoney</text>
<text x="4.70" y="15.30" font-family="'Liberation Sans',sans-serif" font-size="12.50" fill="#000040" font-weight="bold" textLength="63.60" lengthAdjust="spacingAndGlyphs">2016/12/29</text>
<text x="88.30" y="14.30" font-family="'Liberation Serif',serif" font-size="13.60" fill="#000040" stroke="#000040" stroke-width="0.2" textLength="36.00" lengthAdjust="spacingAndGlyphs">TWA00</text>
<path d="M130 5h1v1h-1zM130 6h1v1h-1zM128 7h6v1h-6zM135 7h4v1h-4zM130 8h1v1h-1zM133 8h1v1h-1zM135 8h1v1h-1zM138 8h1v1h-1zM130 9h1v1h-1zM133 9h1v1h-1zM135 9h1v1h-1zM138 9h1v1h-1zM130 10h1v1h-1zM133 10h1v1h-1zM135 10h1v1h-1zM138 10h1v1h-1zM130 11h1v1h-1zM133 11h1v1h-1zM135 11h1v1h-1zM138 11h1v1h-1zM130 12h1v1h-1zM133 12h1v1h-1zM135 12h1v1h-1zM138 12h1v1h-1zM129 13h1v1h-1zM133 13h1v1h-1zM135 13h1v1h-1zM138 13h1v1h-1zM129 14h1v1h-1zM131 14h1v1h-1zM133 14h1v1h-1zM135 14h4v1h-4zM128 15h1v1h-1zM132 15h1v1h-1zM135 15h1v1h-1zM138 15h1v1h-1zM142 5h1v1h-1zM144 5h7v1h-7zM142 6h1v1h-1zM146 6h1v1h-1zM149 6h1v1h-1zM140 7h7v1h-7zM148 7h3v1h-3zM142 8h1v1h-1zM144 8h1v1h-1zM146 8h1v1h-1zM148 8h1v1h-1zM150 8h1v1h-1zM142 9h1v1h-1zM144 9h7v1h-7zM142 10h2v1h-2zM145 10h1v1h-1zM148 10h1v1h-1zM141 11h2v1h-2zM145 11h6v1h-6zM140 12h1v1h-1zM142 12h4v1h-4zM148 12h1v1h-1zM142 13h1v1h-1zM145 13h6v1h-6zM142 14h1v1h-1zM145 14h1v1h-1zM148 14h1v1h-1zM142 15h1v1h-1zM145 15h6v1h-6zM154 5h1v1h-1zM158 5h1v1h-1zM154 6h1v1h-1zM158 6h1v1h-1zM161 6h2v1h-2zM152 7h5v1h-5zM158 7h3v1h-3zM154 8h1v1h-1zM158 8h1v1h-1zM162 8h1v1h-1zM154 9h1v1h-1zM156 9h1v1h-1zM158 9h5v1h-5zM154 10h2v1h-2zM153 11h2v1h-2zM158 11h5v1h-5zM152 12h1v1h-1zM154 12h1v1h-1zM158 12h1v1h-1zM162 12h1v1h-1zM154 13h1v1h-1zM158 13h5v1h-5zM154 14h1v1h-1zM158 14h1v1h-1zM162 14h1v1h-1zM152 15h3v1h-3zM158 15h5v1h-5zM167 5h1v1h-1zM171 5h1v1h-1zM165 6h5v1h-5zM171 6h1v1h-1zM165 7h1v1h-1zM167 7h1v1h-1zM169 7h1v1h-1zM171 7h4v1h-4zM164 8h8v1h-8zM173 8h1v1h-1zM165 9h1v1h-1zM167 9h1v1h-1zM169 9h1v1h-1zM171 9h1v1h-1zM173 9h1v1h-1zM164 10h6v1h-6zM171 10h1v1h-1zM173 10h1v1h-1zM164 11h1v1h-1zM167 11h1v1h-1zM169 11h1v1h-1zM171 11h1v1h-1zM173 11h1v1h-1zM164 12h8v1h-8zM173 12h1v1h-1zM166 13h1v1h-1zM168 13h1v1h-1zM172 13h1v1h-1zM167 14h2v1h-2zM171 14h1v1h-1zM173 14h1v1h-1zM164 15h3v1h-3zM169 15h2v1h-2zM174 15h1v1h-1z" fill="#000040" shape-rendering="crispEdges"/>
<path d="M302 5h5v1h-5zM308 5h5v1h-5zM302 6h1v1h-1zM306 6h1v1h-1zM308 6h1v1h-1zM312 6h1v1h-1zM302 7h5v1h-5zM308 7h5v1h-5zM302 8h1v1h-1zM306 8h1v1h-1zM308 8h1v1h-1zM312 8h1v1h-1zM302 9h5v1h-5zM308 9h5v1h-5zM302 10h1v1h-1zM312 10h1v1h-1zM302 11h1v1h-1zM305 11h5v1h-5zM312 11h1v1h-1zM302 12h1v1h-1zM306 12h1v1h-1zM308 12h1v1h-1zM312 12h1v1h-1zM302 13h1v1h-1zM304 13h7v1h-7zM312 13h1v1h-1zM302 14h1v1h-1zM306 14h1v1h-1zM308 14h1v1h-1zM312 14h1v1h-1zM302 15h1v1h-1zM305 15h1v1h-1zM308 15h1v1h-1zM310 15h3v1h-3z" fill="#000040" shape-rendering="crispEdges"/>
<text x="318.90" y="15.30" font-family="'Liberation Sans',sans-serif" font-size="12.50" fill="#007000" font-weight="bold" textLength="45.30" lengthAdjust="spacingAndGlyphs">9172.39</text>
<path d="M444 5h1v1h-1zM439 6h11v1h-11zM442 8h5v1h-5zM442 9h1v1h-1zM446 9h1v1h-1zM440 10h9v1h-9zM440 11h1v1h-1zM448 11h1v1h-1zM440 12h1v1h-1zM442 12h5v1h-5zM448 12h1v1h-1zM440 13h1v1h-1zM442 13h1v1h-1zM446 13h1v1h-1zM448 13h1v1h-1zM440 14h1v1h-1zM442 14h5v1h-5zM448 14h1v1h-1zM440 15h1v1h-1zM447 15h2v1h-2z" fill="#000040" shape-rendering="crispEdges"/>
<text x="455.60" y="15.30" font-family="'Liberation Sans',sans-serif" font-size="12.50" fill="#007000" font-weight="bold" textLength="45.30" lengthAdjust="spacingAndGlyphs">9196.02</text>
<path d="M579 5h1v1h-1zM584 5h2v1h-2zM579 6h5v1h-5zM578 7h1v1h-1zM580 7h1v1h-1zM583 7h1v1h-1zM578 8h1v1h-1zM580 8h1v1h-1zM583 8h1v1h-1zM577 9h2v1h-2zM580 9h1v1h-1zM583 9h1v1h-1zM576 10h1v1h-1zM578 10h1v1h-1zM580 10h7v1h-7zM578 11h1v1h-1zM580 11h1v1h-1zM583 11h1v1h-1zM578 12h1v1h-1zM580 12h1v1h-1zM583 12h1v1h-1zM586 12h1v1h-1zM578 13h1v1h-1zM580 13h1v1h-1zM582 13h1v1h-1zM584 13h1v1h-1zM586 13h1v1h-1zM578 14h1v1h-1zM580 14h2v1h-2zM583 14h1v1h-1zM585 14h2v1h-2zM578 15h1v1h-1zM580 15h1v1h-1zM584 15h1v1h-1zM586 15h1v1h-1z" fill="#000040" shape-rendering="crispEdges"/>
<text x="592.70" y="15.30" font-family="'Liberation Sans',sans-serif" font-size="12.50" fill="#007000" font-weight="bold" textLength="45.40" lengthAdjust="spacingAndGlyphs">9149.16</text>
<path d="M716 5h1v1h-1zM719 5h1v1h-1zM716 6h1v1h-1zM719 6h1v1h-1zM713 7h1v1h-1zM716 7h1v1h-1zM719 7h5v1h-5zM713 8h1v1h-1zM716 8h1v1h-1zM718 8h1v1h-1zM722 8h1v1h-1zM713 9h1v1h-1zM716 9h2v1h-2zM719 9h1v1h-1zM722 9h1v1h-1zM713 10h1v1h-1zM716 10h1v1h-1zM719 10h1v1h-1zM722 10h1v1h-1zM713 11h1v1h-1zM715 11h2v1h-2zM719 11h1v1h-1zM721 11h1v1h-1zM713 12h2v1h-2zM716 12h1v1h-1zM720 12h1v1h-1zM713 13h1v1h-1zM716 13h1v1h-1zM720 13h2v1h-2zM716 14h1v1h-1zM719 14h1v1h-1zM722 14h1v1h-1zM716 15h1v1h-1zM718 15h1v1h-1zM723 15h1v1h-1z" fill="#000040" shape-rendering="crispEdges"/>
<text x="729.80" y="15.30" font-family="'Liberation Sans',sans-serif" font-size="12.50" fill="#007000" font-weight="bold" textLength="45.20" lengthAdjust="spacingAndGlyphs">9153.09</text>
<path d="M853 7.3H861L857 14z" stroke="#007000" stroke-width="1.6" fill="none" stroke-linejoin="miter"/>
<text x="864.60" y="15.30" font-family="'Liberation Sans',sans-serif" font-size="12.50" fill="#007000" font-weight="bold" textLength="34.70" lengthAdjust="spacingAndGlyphs">-48.31</text>
<text x="964.60" y="15.00" font-family="'Liberation Sans',sans-serif" font-size="12.00" fill="#000040" textLength="40.70" lengthAdjust="spacingAndGlyphs">(-0.53%)</text>
<path d="M1067 5h7v1h-7zM1067 6h1v1h-1zM1073 6h1v1h-1zM1067 7h7v1h-7zM1067 8h1v1h-1zM1073 8h1v1h-1zM1065 9h11v1h-11zM1067 10h1v1h-1zM1070 10h1v1h-1zM1073 10h1v1h-1zM1067 11h7v1h-7zM1067 12h1v1h-1zM1070 12h1v1h-1zM1073 12h1v1h-1zM1066 13h9v1h-9zM1070 14h1v1h-1zM1065 15h11v1h-11z" fill="#000040" shape-rendering="crispEdges"/>
<text x="1082.00" y="15.60" font-family="'Liberation Sans',sans-serif" font-size="12.50" fill="#000040" textLength="41.30" lengthAdjust="spacingAndGlyphs">2680073</text>
<path d="M1129.5 6.5V16.0M1127.3 12.8L1129.5 15.5L1131.7 12.8" stroke="#000040" stroke-width="1" fill="none"/>
<path d="M1136 5h4v1h-4zM1141 5h6v1h-6zM1139 6h1v1h-1zM1141 6h1v1h-1zM1139 7h1v1h-1zM1141 7h5v1h-5zM1136 8h4v1h-4zM1141 8h1v1h-1zM1136 9h1v1h-1zM1141 9h5v1h-5zM1136 10h1v1h-1zM1141 10h1v1h-1zM1136 11h11v1h-11zM1139 12h1v1h-1zM1141 12h1v1h-1zM1144 12h1v1h-1zM1146 12h1v1h-1zM1139 13h1v1h-1zM1141 13h1v1h-1zM1145 13h1v1h-1zM1136 14h1v1h-1zM1138 14h1v1h-1zM1141 14h1v1h-1zM1143 14h1v1h-1zM1146 14h1v1h-1zM1137 15h1v1h-1zM1141 15h2v1h-2zM1146 15h1v1h-1z" fill="#000040" shape-rendering="crispEdges"/>
<path d="M1240 6h7v1h-7zM1240 7h1v1h-1zM1246 7h1v1h-1zM1240 8h1v1h-1zM1246 8h1v1h-1zM1240 9h1v1h-1zM1246 9h1v1h-1zM1240 10h7v1h-7zM1240 11h1v1h-1zM1246 11h1v1h-1zM1240 12h1v1h-1zM1246 12h1v1h-1zM1240 13h1v1h-1zM1246 13h1v1h-1zM1240 14h7v1h-7zM1240 15h1v1h-1zM1246 15h1v1h-1zM1252 5h1v1h-1zM1257 5h1v1h-1zM1252 6h1v1h-1zM1255 6h5v1h-5zM1251 7h1v1h-1zM1253 7h1v1h-1zM1255 7h1v1h-1zM1259 7h1v1h-1zM1250 8h4v1h-4zM1255 8h5v1h-5zM1252 9h1v1h-1zM1255 9h1v1h-1zM1259 9h1v1h-1zM1251 10h1v1h-1zM1253 10h1v1h-1zM1255 10h5v1h-5zM1250 11h3v1h-3zM1254 11h1v1h-1zM1257 11h1v1h-1zM1260 11h1v1h-1zM1255 12h3v1h-3zM1259 12h1v1h-1zM1251 13h1v1h-1zM1253 13h1v1h-1zM1256 13h3v1h-3zM1250 14h1v1h-1zM1252 14h1v1h-1zM1254 14h2v1h-2zM1257 14h1v1h-1zM1259 14h1v1h-1zM1250 15h1v1h-1zM1252 15h1v1h-1zM1254 15h1v1h-1zM1256 15h2v1h-2zM1260 15h1v1h-1z" fill="#000040" shape-rendering="crispEdges"/>
</svg></body></html>
